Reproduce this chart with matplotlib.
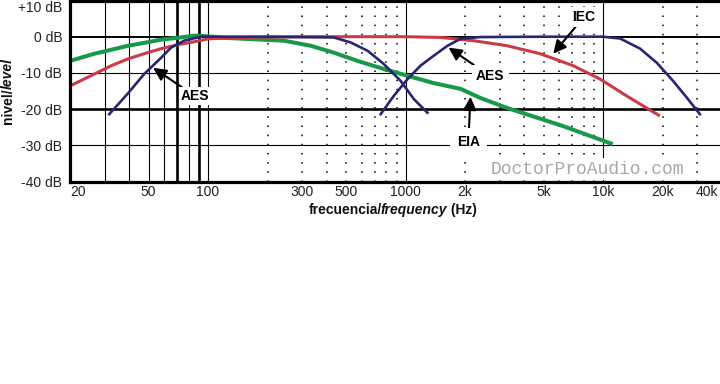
import matplotlib
matplotlib.use('Agg')
import matplotlib.pyplot as plt
import matplotlib.transforms as mtransforms
from matplotlib.ticker import NullLocator

plt.rcParams['font.family'] = ['Liberation Sans', 'DejaVu Sans']

# ---------------- data ----------------
freq_eia = [20, 26.6, 32.4, 39.4, 47.5, 57.9, 70.5, 85, 100, 120, 242, 331, 433,
            572, 774, 1024, 1385, 1895, 2390, 3270, 6280, 11200]
lvl_eia = [-6.7, -4.7, -3.6, -2.5, -1.7, -0.8, -0.3, 0.3, 0.1, -0.3, -1.1, -2.5, -4.4,
           -6.7, -8.9, -10.8, -12.8, -14.4, -16.9, -19.7, -24.7, -29.7]

freq_iec = [20, 26.6, 32.4, 39.4, 47.5, 57.9, 70.5, 85, 100, 150, 300, 1000, 1500,
            2200, 3270, 4800, 7050, 9650, 13200, 19400]
lvl_iec = [-13.6, -10.3, -8.0, -6.1, -4.7, -3.3, -2.2, -1.4, -0.6, -0.2, 0, 0, -0.2,
           -1.1, -2.5, -4.7, -8.0, -11.7, -16.4, -21.9]

freq_aes_low = [31.6, 39.4, 47.5, 57.9, 65, 75.7, 92, 200, 433, 528, 643, 774, 944, 1100, 1290]
lvl_aes_low = [-21.4, -15.6, -10.3, -5.8, -3.0, -1.1, 0, 0, -0.2, -1.6, -3.9, -7.5, -12.2, -17.2, -21.0]

freq_aes_high = [748, 870, 1024, 1190, 1385, 1630, 1895, 2390, 5000, 10000, 12200, 15400,
                 18700, 22600, 26600, 30900]
lvl_aes_high = [-21.4, -16.4, -11.7, -8.0, -5.3, -2.5, -0.6, -0.1, 0, 0, -0.5, -3.3,
                -7.2, -12.2, -16.9, -21.4]

xtick_vals = [20, 50, 100, 300, 500, 1000, 2000, 5000, 10000, 20000, 40000]
xtick_labels = ['20', '50', '100', '300', '500', '1000', '2k', '5k', '10k', '20k', '40k']
ytick_vals = [10, 0, -10, -20, -30, -40]
ytick_labels = ['+10 dB', '0 dB', '-10 dB', '-20 dB', '-30 dB', '-40 dB']

grid_solid_thin = [30, 40, 50, 60, 80, 100, 1000, 10000]
grid_solid_thick = [70, 90]
grid_dotted = [200, 300, 400, 500, 600, 700, 800, 900,
               2000, 3000, 4000, 5000, 6000, 7000, 8000, 9000, 20000, 30000]
hgrid = {0: 1.4, -10: 0.8, -20: 1.9, -30: 0.8}

GREEN = '#17994a'
RED = '#cc3a47'
BLUE = '#2b2470'

# ---------------- figure ----------------
W, H = 720, 384
fig = plt.figure(figsize=(W / 100, H / 100), dpi=100)
ax = fig.add_axes([70 / W, 1 - 181.5 / H, 652 / W, 181 / H])
ax.set_xscale('log')
ax.set_xlim(20, 40000)
ax.set_ylim(-40, 10)

for f in grid_solid_thin:
    ax.axvline(f, color='black', lw=0.8, zorder=1)
for f in grid_solid_thick:
    ax.axvline(f, color='black', lw=1.9, zorder=1)
for f in grid_dotted:
    ax.axvline(f, color='black', lw=1.1, ls=(0, (1, 5)), zorder=1)
for yv, lw in hgrid.items():
    ax.axhline(yv, color='black', lw=lw, zorder=1)

ax.plot(freq_eia, lvl_eia, color=GREEN, lw=2.9, zorder=2, solid_capstyle='butt')
ax.plot(freq_iec, lvl_iec, color=RED, lw=2.2, zorder=3, solid_capstyle='butt')
ax.plot(freq_aes_low, lvl_aes_low, color=BLUE, lw=1.9, zorder=4)
ax.plot(freq_aes_high, lvl_aes_high, color=BLUE, lw=1.9, zorder=4)

ax.set_xticks(xtick_vals)
ax.set_xticklabels(xtick_labels)
ax.xaxis.set_minor_locator(NullLocator())
ax.set_yticks(ytick_vals)
ax.set_yticklabels(ytick_labels)
ax.tick_params(axis='x', length=0, pad=2.5, labelsize=10, labelcolor='#222222')
ax.tick_params(axis='y', length=0, pad=5.5, labelsize=10, labelcolor='#222222')
xl = ax.get_xticklabels()
xl[0].set_ha('left')
xl[-1].set_ha('right')
xl[-1].set_transform(xl[-1].get_transform() +
                     mtransforms.ScaledTranslation(-4 / 100, 0, fig.dpi_scale_trans))
yl = ax.get_yticklabels()
yl[0].set_va('top')

for side in ['left', 'top', 'bottom']:
    ax.spines[side].set_linewidth(2.3)
    ax.spines[side].set_zorder(6)
ax.spines['right'].set_visible(False)

# ---------------- annotations ----------------
arrow = dict(arrowstyle='-|>,head_length=0.65,head_width=0.32', color='black',
             lw=1.5, mutation_scale=12, shrinkA=0, shrinkB=0)
box = lambda p: dict(boxstyle='square,pad=%s' % p, fc='white', ec='none')
kw = dict(ha='center', va='center', fontsize=10, fontweight='bold', zorder=7)

ax.annotate('AES', xy=(52.7, -8.6), xytext=(86, -16.4), arrowprops=arrow,
            bbox=box(0.12), **kw)
ax.annotate('AES', xy=(1650, -3.0), xytext=(2680, -10.9), arrowprops=arrow,
            bbox=box(0.3), **kw)
ax.annotate('IEC', xy=(5590, -4.7), xytext=(8000, 5.5), arrowprops=arrow,
            bbox=box(0.2), **kw)
ax.annotate('EIA', xy=(2130, -16.6), xytext=(2080, -29.0), arrowprops=arrow,
            bbox=box(0.5), **kw)

ax.text(0.793, 0.069, 'DoctorProAudio.com', transform=ax.transAxes,
        ha='center', va='center', fontsize=13, color='#a8a8a8',
        family=['Liberation Mono', 'DejaVu Sans Mono'], zorder=7,
        bbox=dict(boxstyle='square,pad=0.15', fc='white', ec='none'))

# ---------------- mixed-style axis labels ----------------
renderer = fig.canvas.get_renderer()


def measure(s, style):
    t = fig.text(0, 0, s, fontsize=10, fontweight='bold', fontstyle=style)
    w = t.get_window_extent(renderer).width
    t.remove()
    return w


def mixed(parts, cx, cy, rotation, kern):
    widths = [measure(s, st) for s, st in parts]
    widths = [w + k for w, k in zip(widths, kern)]
    total = sum(widths)
    pos = -total / 2
    for (s, st), w in zip(parts, widths):
        if rotation == 0:
            x, y = cx + pos, cy
        else:
            x, y = cx, cy + pos
        fig.text(x / W, y / H, s, fontsize=10, fontweight='bold', fontstyle=st,
                 rotation=rotation, rotation_mode='anchor', ha='left', va='baseline',
                 color='#111111')
        pos += w


mixed([('frecuencia/', 'normal'), ('frequency', 'italic'), (' (Hz)', 'normal')],
      393, H - 214, 0, [-2, 0, 0])
mixed([('nivel/', 'normal'), ('level', 'italic')], 12, H - 91, 90, [-1, 0])

fig.savefig('out.png', dpi=100)
